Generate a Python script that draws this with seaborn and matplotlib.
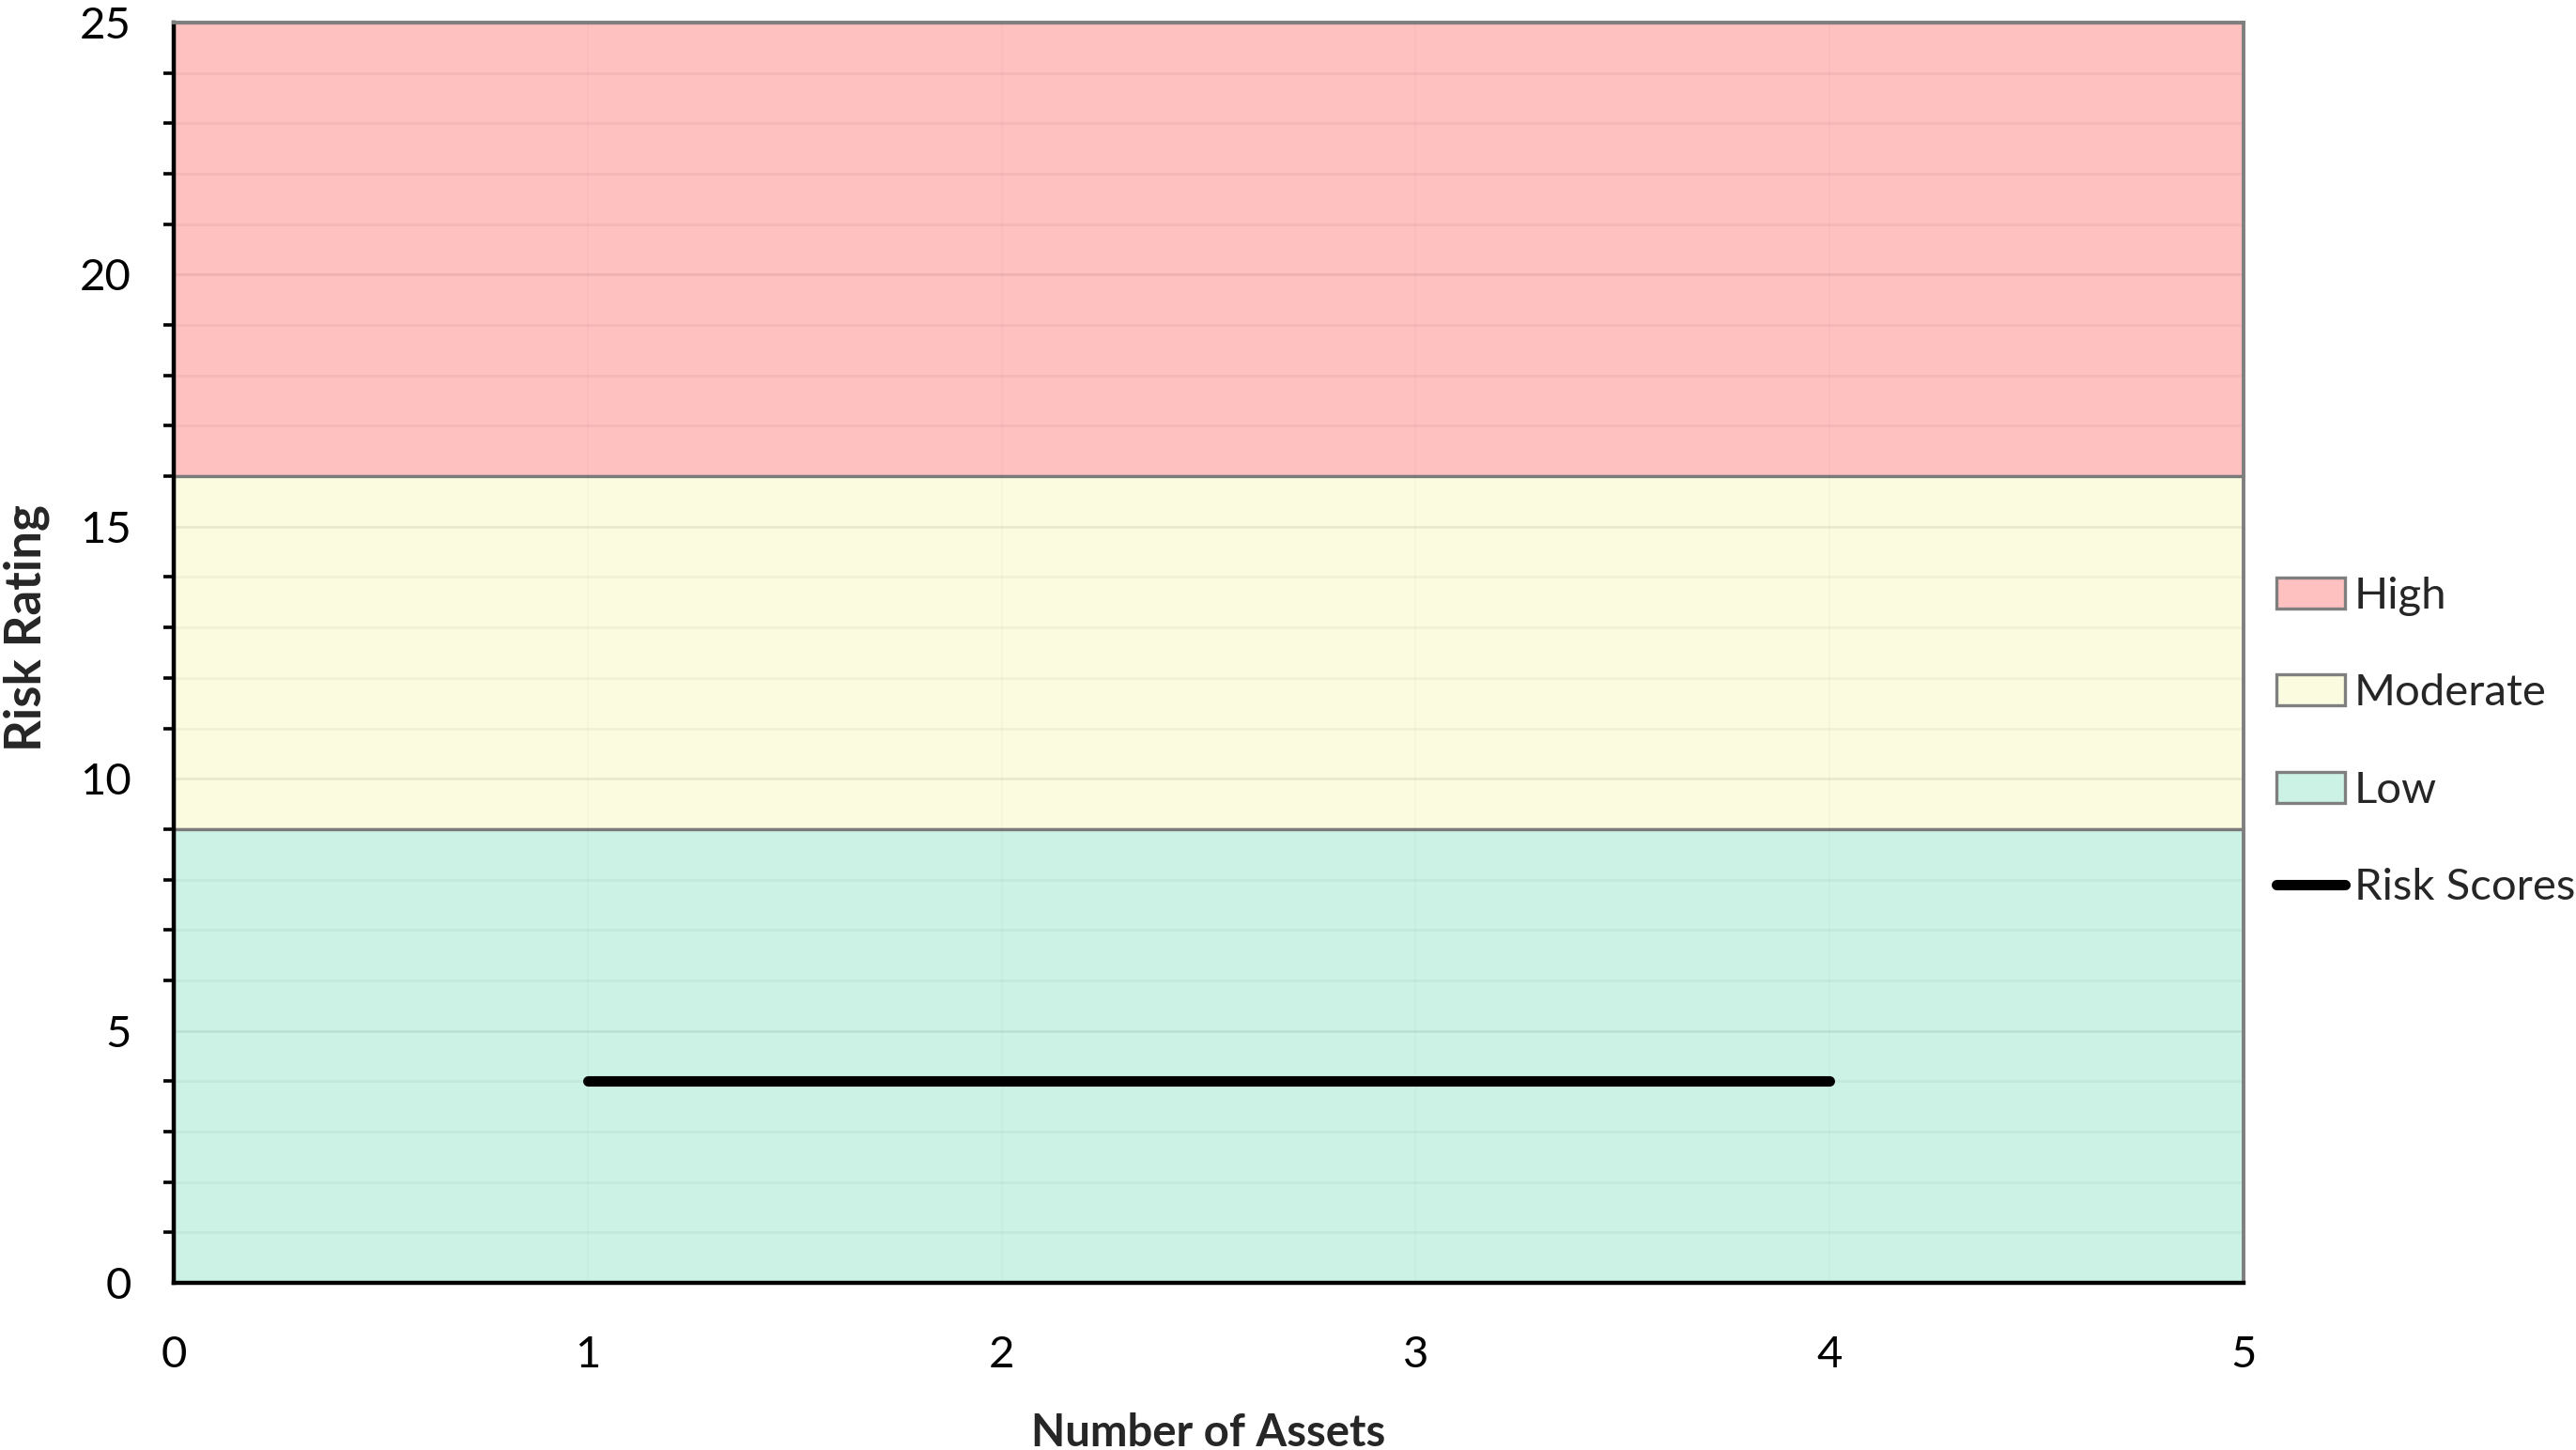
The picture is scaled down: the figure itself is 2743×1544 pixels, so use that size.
import matplotlib
matplotlib.use("Agg")
import matplotlib.pyplot as plt
from matplotlib.patches import Patch
from matplotlib.lines import Line2D
from matplotlib.ticker import MultipleLocator
import seaborn as sns
import pandas as pd

# Risk score series
assets = [1, 2, 3, 4]
risk_scores = [4, 4, 4, 4]

# Risk bands (lower, upper)
band_names = ["High", "Moderate", "Low"]
band_lower = [16, 9, 0]
band_upper = [25, 16, 9]
band_colors = ["#FFC0C0", "#FAFBDF", "#CCF2E6"]

x_ticks = [0, 1, 2, 3, 4, 5]
y_ticks = [0, 5, 10, 15, 20, 25]

sns.set_theme(style="white")
plt.rcParams["font.family"] = ["Lato", "DejaVu Sans"]

FS = 34

fig = plt.figure(figsize=(27.43, 15.44), dpi=100)
ax = fig.add_axes([185 / 2743, 1 - 1366 / 1544, (2389 - 185) / 2743, (1366 - 24) / 1544])

edge = "#7F7F7F"
for lo, hi, col in zip(band_lower, band_upper, band_colors):
    ax.axhspan(lo, hi, facecolor=col, edgecolor=edge, linewidth=2.4, zorder=0.3)

df = pd.DataFrame({"Number of Assets": assets, "Risk Rating": risk_scores})
sns.lineplot(data=df, x="Number of Assets", y="Risk Rating", ax=ax,
             color="black", linewidth=8, solid_capstyle="round", zorder=3)

ax.set_xlim(0, 5)
ax.set_ylim(0, 25)
ax.set_xticks(x_ticks)
ax.set_yticks(y_ticks)
ax.yaxis.set_minor_locator(MultipleLocator(1))

ax.set_axisbelow(True)
ax.grid(True, which="major", axis="y", color="black", alpha=0.07, linewidth=2)
ax.grid(True, which="minor", axis="y", color="black", alpha=0.04, linewidth=2)
ax.grid(True, which="major", axis="x", color="black", alpha=0.02, linewidth=1.5)

for side in ("left", "bottom"):
    ax.spines[side].set_color("black")
    ax.spines[side].set_linewidth(3.2)
for side in ("top", "right"):
    ax.spines[side].set_color(edge)
    ax.spines[side].set_linewidth(2.8)

ax.tick_params(axis="both", which="major", direction="inout", length=23, width=2.6,
               color="black", labelsize=FS, labelcolor="black")
ax.tick_params(axis="y", which="major", pad=21)
ax.tick_params(axis="x", which="major", pad=29)
ax.tick_params(axis="y", which="minor", direction="out", length=8, width=2.6,
               color="black", left=True)

ax.set_xlabel("Number of Assets", fontsize=FS, fontweight="bold")
ax.set_ylabel("Risk Rating", fontsize=38, fontweight="bold")
ax.xaxis.set_label_coords(0.5, -0.103)
ax.yaxis.set_label_coords(-0.060, 0.520)

handles = [Patch(facecolor=c, edgecolor=edge, linewidth=2.4) for c in band_colors]
handles.append(Line2D([0], [0], color="black", linewidth=8, solid_capstyle="round"))
labels = band_names + ["Risk Scores"]
fig.legend(handles, labels, loc="center left", bbox_to_anchor=(2424 / 2743, 1 - 790 / 1544),
           frameon=False, fontsize=FS, borderpad=0, borderaxespad=0,
           handlelength=1.55, handleheight=0.7, handletextpad=0.2, labelspacing=1.3)

fig.savefig("out.png", dpi=100)
